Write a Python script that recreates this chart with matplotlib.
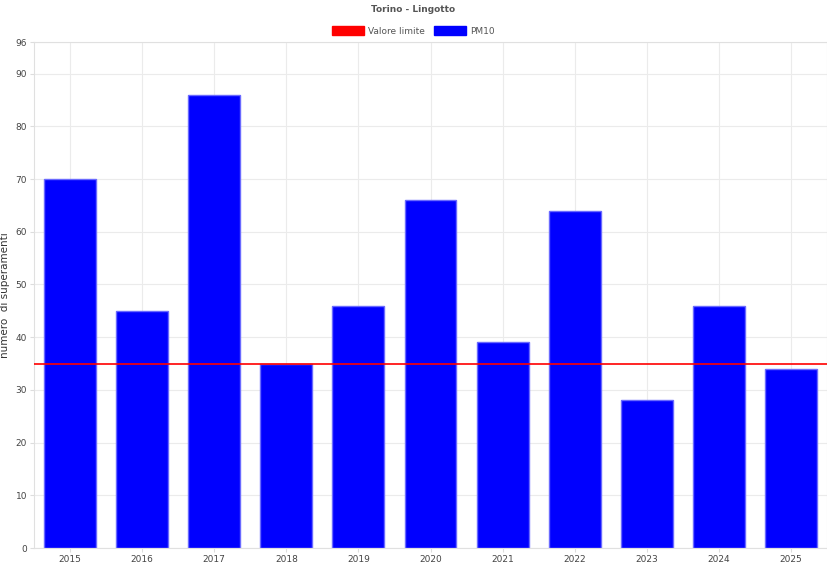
import matplotlib
matplotlib.use("Agg")
import matplotlib.pyplot as plt
from matplotlib.patches import Patch

years = ["2015","2016","2017","2018","2019","2020","2021","2022","2023","2024","2025"]
pm10 = [70, 45, 86, 35, 46, 66, 39, 64, 28, 46, 34]
limit = 35
yticks = [0,10,20,30,40,50,60,70,80,90,96]

fig = plt.figure(figsize=(8.27,5.68), dpi=100)
ax = fig.add_axes([34/827, 20/568, 793/827, 506/568])
x = range(len(years))
ax.bar(x, pm10, width=0.72, color="#0000ff", edgecolor="#6a6aff", linewidth=1, zorder=2)
ax.axhline(limit, color="#ff0000", linewidth=1.2, zorder=3)
ax.set_xlim(-0.5, len(years)-0.5)
ax.set_ylim(0, 96)
ax.set_yticks(yticks)
ax.set_xticks(list(x))
ax.set_xticklabels(years)
ax.tick_params(labelsize=6.5, length=3, pad=2, color="#dddddd")
for t in ax.get_yticklabels()+ax.get_xticklabels():
    t.set_color("#444444")
ax.grid(True, color="#ebebeb", linewidth=0.8, zorder=0)
for s in ax.spines.values():
    s.set_color("#e0e0e0")
ax.set_ylabel("numero  di superamenti", fontsize=7.5, color="#333333", labelpad=4)
fig.text(0.5, 1-10/568, "Torino - Lingotto", ha="center", va="center", fontsize=6.5, fontweight="bold", color="#555555")
handles = [Patch(facecolor="#ff0000", edgecolor="#ff0000"), Patch(facecolor="#0000ff", edgecolor="#0000ff")]
fig.legend(handles, ["Valore limite","PM10"], loc="center", bbox_to_anchor=(0.5, 1-31/568), ncol=2,
           frameon=False, fontsize=6.5, handlelength=3.5, handleheight=1, columnspacing=1, handletextpad=0.5,
           labelcolor="#555555")
fig.savefig("out.png", dpi=100)
